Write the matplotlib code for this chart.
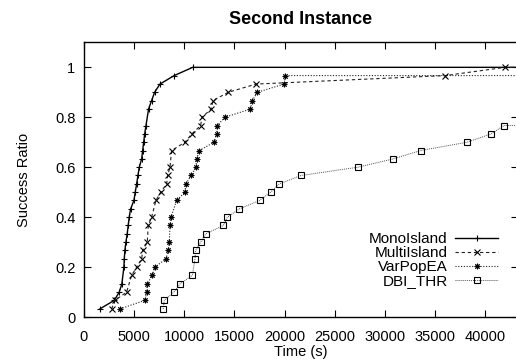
import numpy as np
import matplotlib.pyplot as plt
from matplotlib.ticker import FuncFormatter

plt.rcParams['font.family'] = ['Liberation Sans', 'DejaVu Sans']

# success ratio steps (30 runs)
mono_t = [1630, 3050, 3550, 3810, 4010, 4050, 4110, 4210, 4340, 4440, 4540, 4680,
          5010, 5140, 5280, 5410, 5540, 5780, 5880, 5980, 6080, 6210, 6470, 6770,
          7070, 7600, 9020, 10860, 60000]
mono_r = [0.033, 0.067, 0.1, 0.133, 0.2, 0.233, 0.267, 0.3, 0.333, 0.367, 0.4, 0.433,
          0.467, 0.5, 0.533, 0.567, 0.6, 0.633, 0.667, 0.7, 0.733, 0.767, 0.833, 0.867,
          0.9, 0.933, 0.967, 1.0, 1.0]

multi_t = [2790, 3120, 4280, 4780, 5280, 5780, 5880, 6340, 6440, 6770, 7200, 7670,
           8270, 8370, 8600, 8760, 10090, 10760, 11650, 11790, 12700, 12880, 14400,
           17160, 35990, 41960, 60000]
multi_r = [0.033, 0.067, 0.1, 0.167, 0.2, 0.233, 0.267, 0.3, 0.367, 0.4, 0.467, 0.5,
           0.533, 0.567, 0.6, 0.667, 0.7, 0.733, 0.767, 0.8, 0.833, 0.867, 0.9,
           0.933, 0.967, 1.0, 1.0]

varpop_t = [3620, 6110, 6270, 6340, 6830, 7100, 8200, 8430, 8530, 8600, 8700, 9260,
            10090, 10190, 10690, 11190, 11250, 11520, 12980, 13250, 13310, 14070,
            16600, 16800, 17290, 19950, 20050, 60000]
varpop_r = [0.033, 0.067, 0.1, 0.133, 0.167, 0.2, 0.233, 0.267, 0.3, 0.367, 0.4, 0.467,
            0.5, 0.533, 0.567, 0.6, 0.633, 0.667, 0.7, 0.733, 0.767, 0.8,
            0.833, 0.867, 0.9, 0.933, 0.967, 0.967]

dbi_t = [7930, 8030, 8990, 9590, 10820, 11090, 11150, 11650, 12150, 13910, 14310,
         15500, 17520, 18620, 19480, 21640, 27290, 30780, 33560, 38150, 40540,
         41860, 60000]
dbi_r = [0.033, 0.067, 0.1, 0.133, 0.167, 0.233, 0.267, 0.3, 0.333, 0.367, 0.4,
         0.433, 0.467, 0.5, 0.533, 0.567, 0.6, 0.633, 0.667, 0.7, 0.733,
         0.767, 0.767]

fig = plt.figure(figsize=(5.16, 3.62), dpi=100)
ax = fig.add_axes([0.162, 0.124, 1.004 - 0.162, 0.883 - 0.124])

ax.plot(mono_t, mono_r, color='black', lw=1.0, marker='+', ms=5, mew=0.8,
        label='MonoIsland')
ax.plot(multi_t, multi_r, color='#222222', lw=0.8, dashes=(3, 2.5), marker='x', ms=4,
        mew=0.8, mec='black', label='MultiIsland')
ax.plot(varpop_t, varpop_r, color='#222222', lw=0.8, dashes=(1, 1.5), marker=(8, 2, 0),
        ms=4, mew=0.7, mec='black', label='VarPopEA')
ax.plot(dbi_t, dbi_r, color='#555555', lw=0.7, dashes=(1, 1), marker='s', ms=4,
        mfc='none', mec='black', mew=0.8, label='DBI_THR')

ax.set_xlim(0, 43250)
ax.set_ylim(0, 1.1)
ax.set_xticks(np.arange(0, 45000, 5000))
ax.set_yticks([0, 0.2, 0.4, 0.6, 0.8, 1.0])
ax.yaxis.set_major_formatter(FuncFormatter(lambda v, p: '%g' % v))
ax.tick_params(direction='in', top=True, right=True, length=5, width=0.8,
               labelsize=10.5, pad=6)
ax.tick_params(axis='x', pad=9)
for s in ax.spines.values():
    s.set_linewidth(1.0)

ax.set_title('Second Instance', fontsize=13, fontweight='bold', pad=13)
ax.set_xlabel('Time (s)', fontsize=10.5, labelpad=1)
ax.set_ylabel('Success Ratio', fontsize=10.5, labelpad=17)

leg = ax.legend(loc='upper right', bbox_to_anchor=(498 / 516, 1 - 232 / 362),
                bbox_transform=fig.transFigure, frameon=False, markerfirst=False,
                fontsize=11, handlelength=2.8, handletextpad=0.5, labelspacing=0.0,
                borderpad=0, borderaxespad=0)

plt.savefig('out.png', dpi=100)
